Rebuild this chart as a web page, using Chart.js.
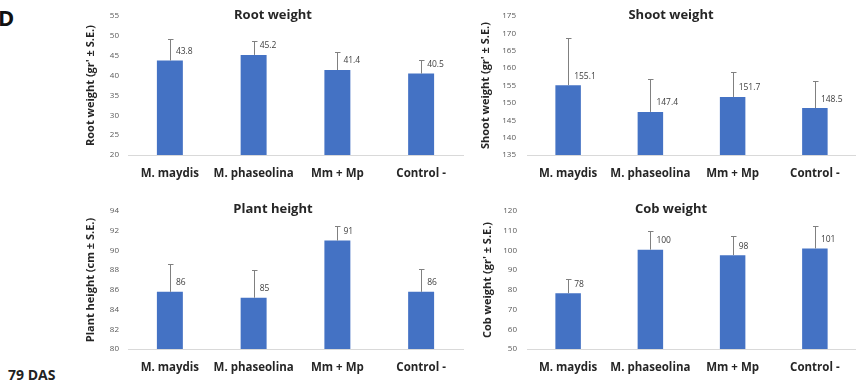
<!DOCTYPE html>
<html lang="en">
<head>
<meta charset="UTF-8">
<title>79 DAS</title>
<script src="https://cdn.jsdelivr.net/npm/chart.js"></script>
<style>
    body { margin: 0; background: #fff; font-family: "Open Sans", sans-serif; }
    #wrap { position: relative; width: 856px; height: 389px; overflow: hidden; }
    canvas { position: absolute; }
    .tag { position: absolute; font-weight: bold; color: #111; }
</style>
</head>
<body>
<div id="wrap">
    <div class="tag" style="left:-2px; top:2px; font-size:22px;">D</div>
    <div class="tag" style="left:8px; top:365px; font-size:14px; color:#222;">79 DAS</div>
    <canvas id="rootChart" width="386" height="190" style="left:80px; top:0px;"></canvas>
    <canvas id="shootChart" width="381" height="190" style="left:475px; top:0px;"></canvas>
    <canvas id="heightChart" width="386" height="199" style="left:80px; top:190px;"></canvas>
    <canvas id="cobChart" width="381" height="199" style="left:477px; top:190px;"></canvas>
</div>

<script>
    // treatments
    const treatments = ['M. maydis', 'M. phaseolina', 'Mm + Mp', 'Control -'];

    // root weight (gr)
    const rootWeight = [43.8, 45.2, 41.4, 40.5];
    const rootSE = [5.3, 3.4, 4.6, 3.4];

    // shoot weight (gr)
    const shootWeight = [155.1, 147.4, 151.7, 148.5];
    const shootSE = [13.7, 9.5, 7.3, 7.8];

    // plant height (cm)
    const plantHeight = [85.8, 85.2, 91.0, 85.8];
    const heightSE = [2.8, 2.8, 1.45, 2.35];

    // cob weight (gr)
    const cobWeight = [78.3, 100.4, 97.6, 101.0];
    const cobSE = [7.4, 9.5, 9.9, 11.4];

    const barColor = '#4472C4';
    const errColor = '#808080';

    // draws the panel title, the upward error bars and the value labels
    const panelExtras = {
        id: 'panelExtras',
        afterDatasetsDraw(chart, args, opts) {
            const ctx = chart.ctx;
            const meta = chart.getDatasetMeta(0);
            const yScale = chart.scales.y;
            const values = chart.data.datasets[0].data;
            ctx.save();
            meta.data.forEach((bar, i) => {
                const top = yScale.getPixelForValue(values[i] + opts.errors[i]);
                const x = Math.round(bar.x) + 0.5;
                ctx.strokeStyle = errColor;
                ctx.lineWidth = 1;
                ctx.beginPath();
                ctx.moveTo(x, bar.y);
                ctx.lineTo(x, Math.round(top) + 0.5);
                ctx.moveTo(x - 2.5, Math.round(top) + 0.5);
                ctx.lineTo(x + 3, Math.round(top) + 0.5);
                ctx.stroke();

                ctx.fillStyle = '#404040';
                ctx.font = '8.5px "Open Sans"';
                ctx.textAlign = 'left';
                ctx.textBaseline = 'middle';
                ctx.fillText(values[i].toFixed(opts.decimals), bar.x + 6, bar.y - 9);
            });
            ctx.fillStyle = '#262626';
            ctx.font = 'bold 13px "Open Sans"';
            ctx.textAlign = 'center';
            ctx.textBaseline = 'middle';
            ctx.fillText(opts.title, opts.titleX, opts.titleY);
            ctx.restore();
        }
    };

    const makePanel = (id, cfg) => {
        const ctx = document.getElementById(id).getContext('2d');
        return new Chart(ctx, {
            type: 'bar',
            data: {
                labels: treatments,
                datasets: [{
                    data: cfg.values,
                    backgroundColor: barColor,
                    categoryPercentage: 1,
                    barPercentage: 0.31
                }]
            },
            options: {
                responsive: false,
                animation: false,
                devicePixelRatio: 1,
                layout: { padding: { top: cfg.padTop, right: cfg.padRight, bottom: 0, left: 0 } },
                plugins: {
                    legend: { display: false },
                    tooltip: { enabled: false },
                    panelExtras: {
                        errors: cfg.errors,
                        decimals: cfg.decimals,
                        title: cfg.title,
                        titleX: cfg.titleX,
                        titleY: cfg.titleY
                    }
                },
                scales: {
                    x: {
                        grid: { display: false, drawTicks: false },
                        border: { display: true, color: '#d9d9d9', width: 1 },
                        ticks: {
                            padding: 12,
                            maxRotation: 0,
                            minRotation: 0,
                            autoSkip: false,
                            color: '#262626',
                            font: { family: 'Open Sans', size: 11.5, weight: 'bold' }
                        },
                        afterFit: (scale) => { scale.height = cfg.xHeight; }
                    },
                    y: {
                        min: cfg.min,
                        max: cfg.max,
                        grid: { display: false, drawTicks: false },
                        border: { display: false },
                        ticks: {
                            stepSize: cfg.step,
                            padding: cfg.tickPad,
                            color: '#595959',
                            font: { family: 'Open Sans', size: 8 }
                        },
                        title: {
                            display: true,
                            text: cfg.yTitle,
                            color: '#262626',
                            padding: { top: 4, bottom: 0 },
                            font: { family: 'Open Sans', size: 11, weight: 'bold' }
                        },
                        afterFit: (scale) => { scale.width = cfg.yWidth; }
                    }
                }
            },
            plugins: [panelExtras]
        });
    };

    makePanel('rootChart', {
        values: rootWeight, errors: rootSE, decimals: 1,
        min: 20, max: 55, step: 5,
        title: 'Root weight', titleX: 193, titleY: 15,
        yTitle: "Root weight (gr' \u00B1 S.E.)",
        padTop: 16, padRight: 3, xHeight: 35, yWidth: 48, tickPad: 9
    });

    makePanel('shootChart', {
        values: shootWeight, errors: shootSE, decimals: 1,
        min: 135, max: 175, step: 5,
        title: 'Shoot weight', titleX: 196, titleY: 15,
        yTitle: "Shoot weight (gr' \u00B1 S.E.)",
        padTop: 16, padRight: 0, xHeight: 35, yWidth: 52, tickPad: 11
    });

    makePanel('heightChart', {
        values: plantHeight, errors: heightSE, decimals: 0,
        min: 80, max: 94, step: 2,
        title: 'Plant height', titleX: 193, titleY: 19,
        yTitle: 'Plant height (cm \u00B1 S.E.)',
        padTop: 21, padRight: 3, xHeight: 40, yWidth: 48, tickPad: 9
    });

    makePanel('cobChart', {
        values: cobWeight, errors: cobSE, decimals: 0,
        min: 50, max: 120, step: 10,
        title: 'Cob weight', titleX: 194, titleY: 19,
        yTitle: "Cob weight (gr' \u00B1 S.E.)",
        padTop: 21, padRight: 2, xHeight: 40, yWidth: 50, tickPad: 10
    });
</script>
</body>
</html>
